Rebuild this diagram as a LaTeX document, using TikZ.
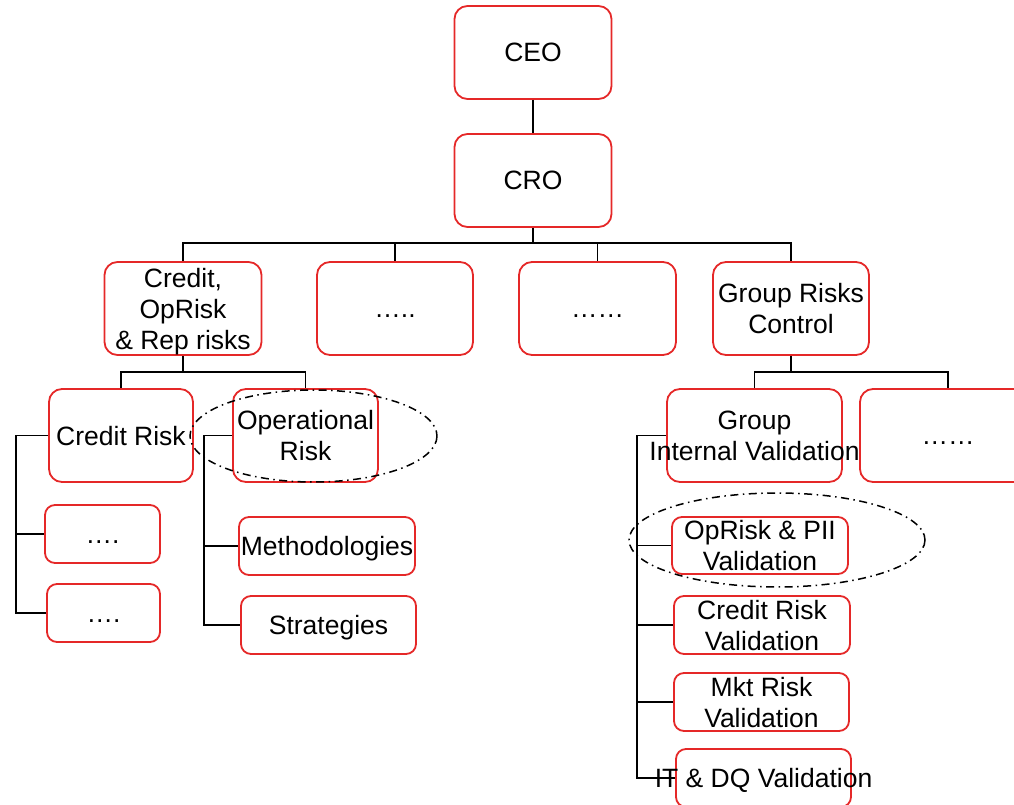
\documentclass[tikz,border=0pt]{standalone}
\usepackage{fontspec}
\setmainfont{Liberation Sans}
\usepackage{xcolor}
\usetikzlibrary{positioning}
\usetikzlibrary{calc}
\definecolor{boxred}{RGB}{229,40,40}
\def\dotz(#1){\vphantom{C}#1}
\tikzstyle{unit} = [draw=boxred, line width=1.8pt, inner xsep=-40pt, inner ysep=0pt, align=center, text depth=0pt, font=\fontsize{26.5}{31}\selectfont]
\tikzstyle{bigbox} = [unit, rounded corners=13pt, minimum height=93pt]
\tikzstyle{smallbox} = [unit, rounded corners=10pt, minimum height=58pt]
\tikzstyle{link} = [line width=1.9pt]
\tikzstyle{circ} = [line width=1.5pt, dash pattern=on 8pt off 4.5pt on 1.5pt off 4.5pt]

\begin{document}
\begin{tikzpicture}[x=1pt,y=-1pt]
      \useasboundingbox (0,0) rectangle (1014,805);
      %%%%%%%%%%%%%%%%%%%%%%%%%%%%%%%%%%%%%%%
      \draw (533,52.5) node (ceo) [bigbox, minimum width=157] {CEO};
      \draw (533,180.5) node (cro) [bigbox, minimum width=157] {CRO};
      \draw (183,308.5) node (cor) [bigbox, minimum width=157] {Credit,\\OpRisk\\\& Rep risks};
      \draw (395,308.5) node (dept2) [bigbox, minimum width=156] {\dotz(…..)};
      \draw (597.5,308.5) node (dept3) [bigbox, minimum width=157] {\dotz(……)};
      \draw (791,308.5) node (grc) [bigbox, minimum width=156] {Group Risks\\Control};
      \draw (121,435.5) node (crisk) [bigbox, minimum width=144] {Credit Risk};
      \draw (305.5,435.5) node (oprisk) [bigbox, minimum width=145] {Operational\\Risk};
      \draw (754.5,435.5) node (giv) [bigbox, minimum width=175] {Group\\Internal Validation};
      \draw (948,435.5) node (gdots) [bigbox, minimum width=176] {\dotz(……)};
      \draw (102.5,534) node (cdots1) [smallbox, minimum width=115] {\dotz(….)};
      \draw (103.5,613) node (cdots2) [smallbox, minimum width=113] {\dotz(….)};
      \draw (327,546) node (meth) [smallbox, minimum width=176] {Methodologies};
      \draw (328.5,625) node (strat) [smallbox, minimum width=175] {Strategies};
      \draw (760,545.5) node (piival) [smallbox, minimum width=176, minimum height=57] {OpRisk \& PII\\Validation};
      \draw (762,625) node (crval) [smallbox, minimum width=176] {Credit Risk\\Validation};
      \draw (761.5,702) node (mktval) [smallbox, minimum width=175] {Mkt Risk\\Validation};
      \draw (763.5,778) node (itval) [smallbox, minimum width=175] {IT \& DQ Validation};
      %%%%%%%%%%%%%%%%%%%%%%%%%%%%%%%%%%%%%%%
      \coordinate (j1) at (533,243);
      \coordinate (j2) at (183,372);
      \coordinate (j3) at (791,372);
      \coordinate (t1) at (16,613);
      \coordinate (t2) at (204,625);
      \coordinate (t3) at (637,778);
      \draw[link] (ceo)--(cro);
      \draw[link] (cro)--(j1);
      \draw[link] (j1)-|(cor);
      \draw[link] (j1)-|(dept2);
      \draw[link] (j1)-|(dept3);
      \draw[link] (j1)-|(grc);
      \draw[link] (cor)--(j2);
      \draw[link] (j2)-|(crisk);
      \draw[link] (j2)-|(oprisk);
      \draw[link] (grc)--(j3);
      \draw[link] (j3)-|(giv);
      \draw[link] (j3)-|(gdots);
      \draw[link] (crisk)-|(t1)--(cdots2);
      \draw[link] (t1 |- cdots1)--(cdots1);
      \draw[link] (oprisk)-|(t2)--(strat);
      \draw[link] (t2 |- meth)--(meth);
      \draw[link] (giv)-|(t3)--(itval);
      \draw[link] (t3 |- piival)--(piival);
      \draw[link] (t3 |- crval)--(crval);
      \draw[link] (t3 |- mktval)--(mktval);
      %\draw[link] (t3 |- itval)--(itval);
      \draw[circ] (313.5,436) ellipse [x radius=123.5, y radius=46];
      \draw[circ] (777,540) ellipse [x radius=148, y radius=47];
\end{tikzpicture}
\end{document}
